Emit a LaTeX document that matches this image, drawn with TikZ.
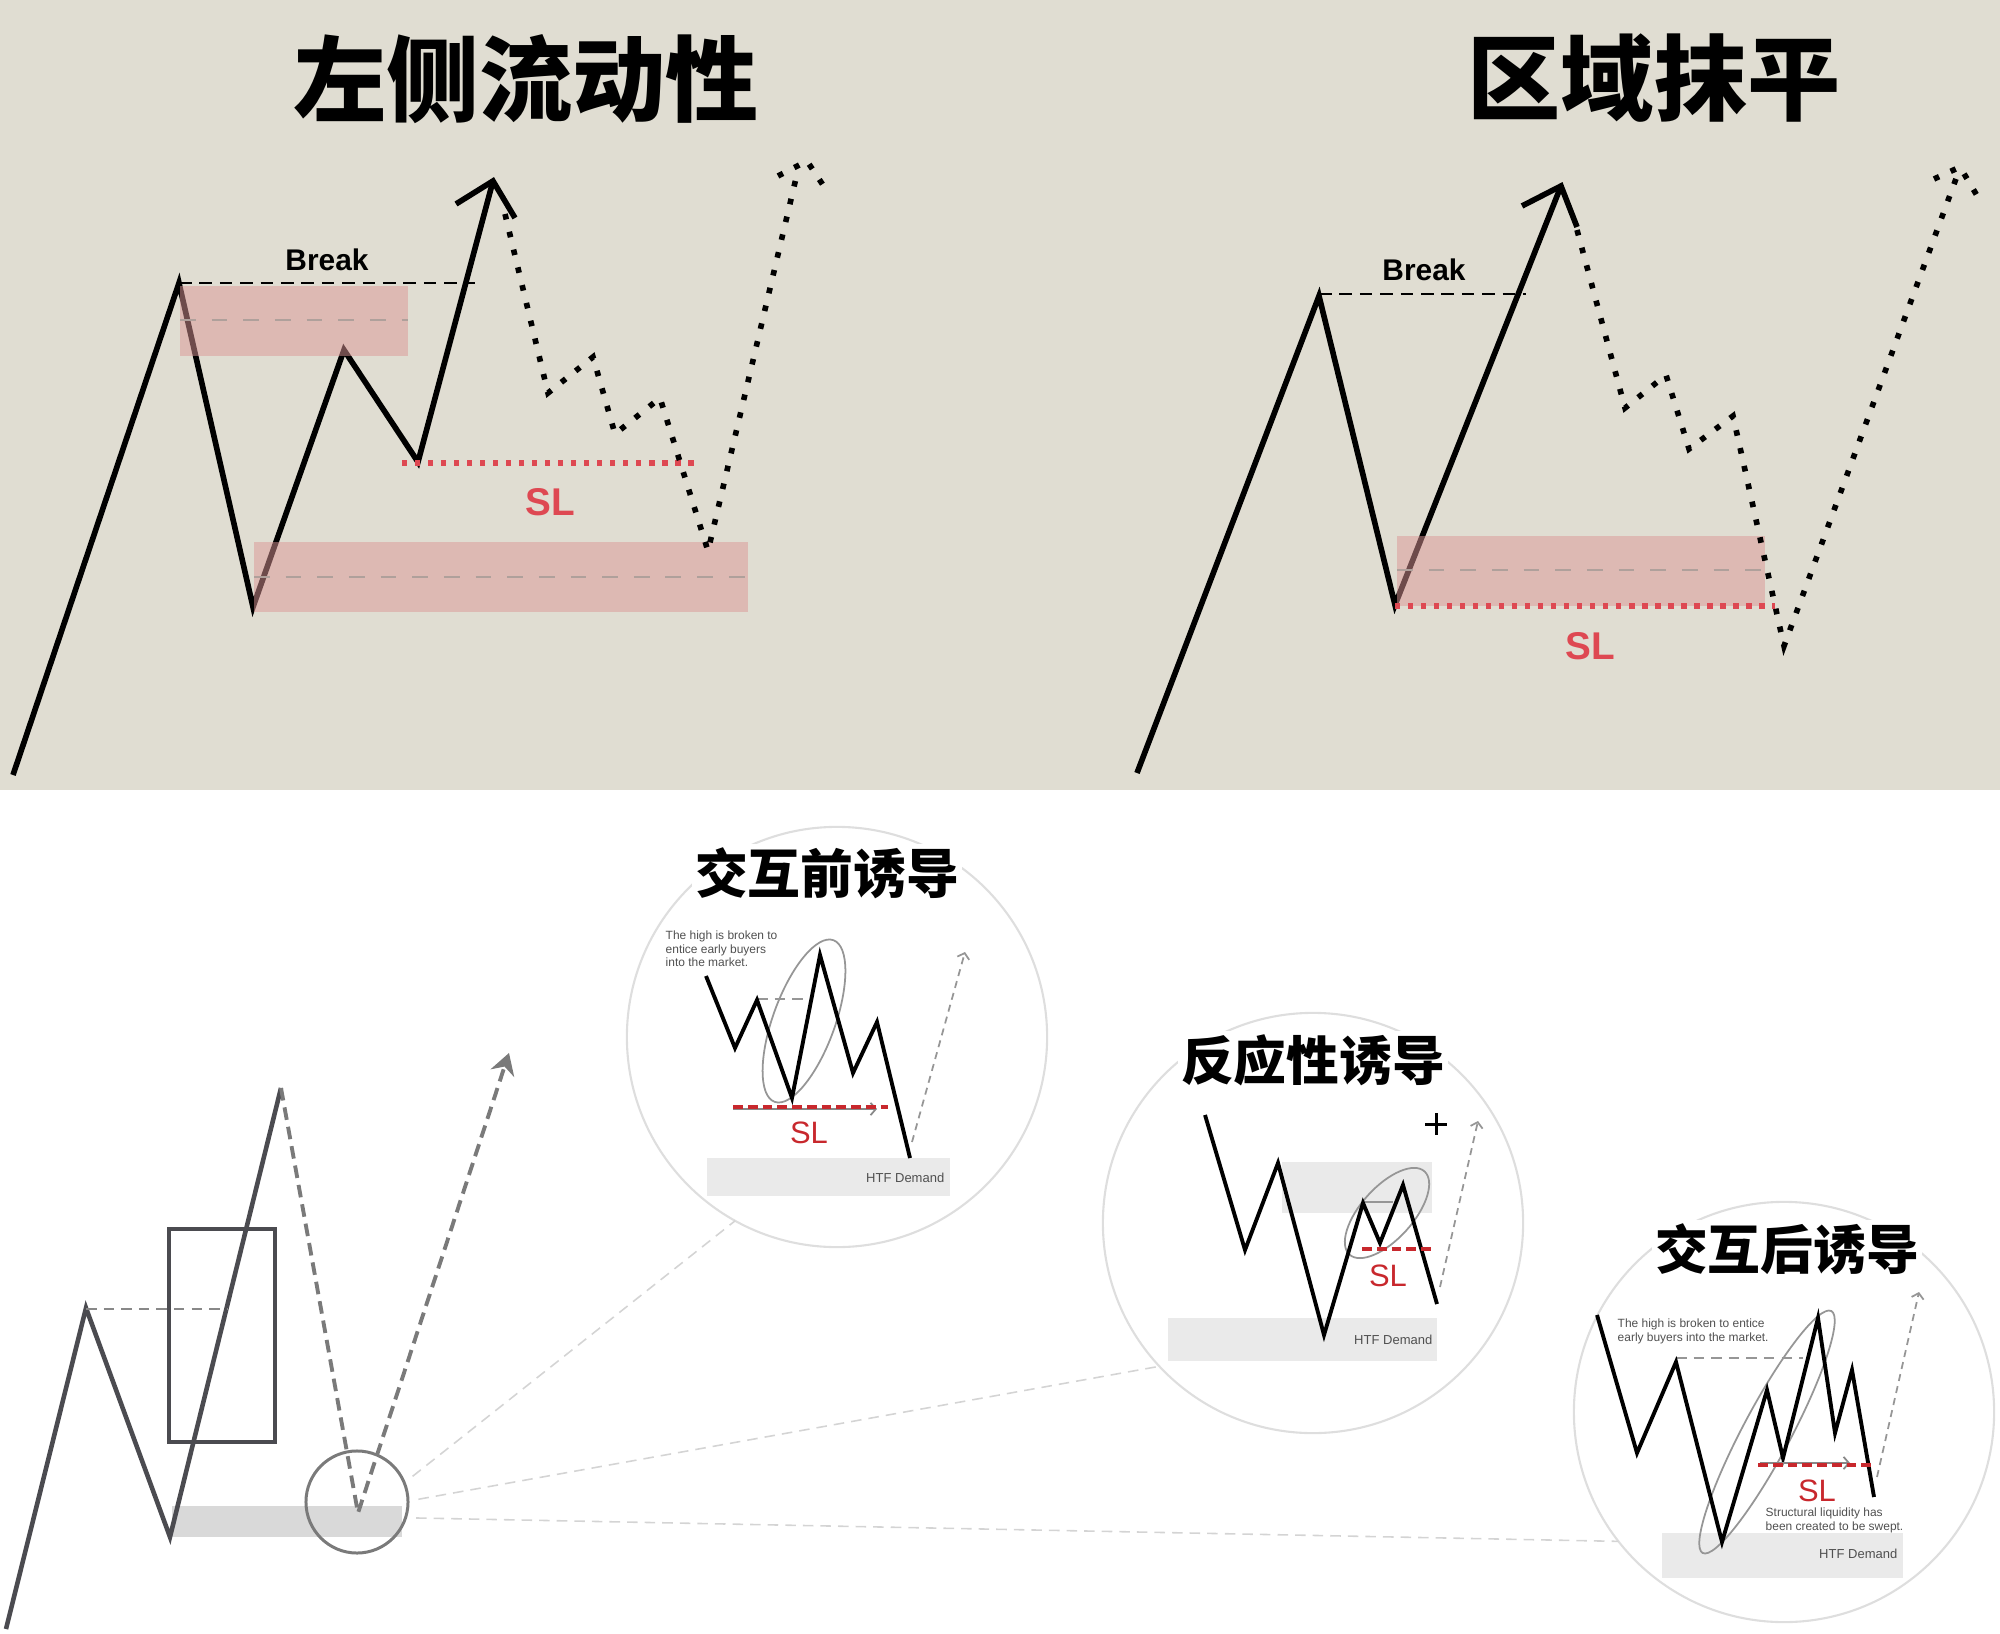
\documentclass[tikz,border=0pt]{standalone}
\usepackage{fontspec}
\setmainfont{Liberation Sans}
\newfontfamily\cjk{Noto Sans CJK SC}
\usetikzlibrary{arrows.meta}

\definecolor{fondo}{RGB}{224,221,210}
\definecolor{rosa}{RGB}{220,150,150}
\definecolor{rojosl}{RGB}{222,72,82}
\definecolor{rojoc}{RGB}{200,40,45}
\definecolor{oscuro}{RGB}{75,75,80}
\definecolor{medio}{RGB}{122,122,122}
\definecolor{claro}{RGB}{212,212,212}
\definecolor{borde}{RGB}{222,222,222}
\definecolor{caja}{RGB}{234,234,234}
\definecolor{cajagris}{RGB}{217,217,217}
\definecolor{mitadgris}{RGB}{175,160,155}
\definecolor{textogris}{RGB}{80,80,80}
\definecolor{guiagris}{RGB}{150,150,150}
\definecolor{lineagris}{RGB}{136,136,136}

\newcommand{\titulo}{\fontsize{26.5}{26.5}\selectfont\cjk\bfseries}

\tikzset{
  linea/.style={line width=1.6pt, line join=miter},
  punteado/.style={line width=1.6pt, dash pattern=on 1.6pt off 3.6pt},
  corte/.style={line width=0.7pt, dash pattern=on 3.6pt off 2.2pt},
  mitad/.style={draw=mitadgris, line width=0.6pt, dash pattern=on 4.5pt off 4.5pt},
  slpunto/.style={draw=rojosl, line width=1.5pt, dash pattern=on 1.5pt off 2.2pt},
  etiqueta/.style={font=\fontsize{8.5}{10}\selectfont\bfseries},
  slgrande/.style={font=\fontsize{11}{11}\selectfont\bfseries, text=rojosl},
  slchico/.style={font=\fontsize{8.8}{9}\selectfont, text=rojoc},
  nota/.style={font=\fontsize{3.4}{3.9}\selectfont, text=textogris, align=left, anchor=north west, inner sep=0pt},
  htf/.style={font=\fontsize{3.7}{4}\selectfont, text=textogris, anchor=east, inner sep=0pt},
  subtitulo/.style={font=\fontsize{15}{15}\selectfont\cjk\bfseries, fill=white, inner sep=1pt},
  circulo/.style={circle, draw=borde, line width=0.6pt, minimum size=4.2cm, inner sep=0pt, outer sep=0pt},
  zigzag/.style={line width=1.1pt, line join=miter},
  elipse/.style={draw=guiagris, line width=0.5pt},
  guia/.style={draw=guiagris, dash pattern=on 3pt off 2pt, line width=0.6pt},
  rojorayas/.style={draw=rojoc, line width=0.9pt, dash pattern=on 2.8pt off 1.4pt},
  flechagris/.style={draw=lineagris, line width=0.5pt, -{Straight Barb[length=1.5pt,width=3.5pt]}},
  flechita/.style={draw=guiagris, line width=0.5pt, dash pattern=on 2pt off 1.5pt, -{Straight Barb[length=1.5pt,width=3.5pt]}},
  conector/.style={draw=claro, line width=0.45pt, dash pattern=on 3pt off 2pt}
}

\begin{document}
\begin{tikzpicture}[x=0.01cm,y=-0.01cm]
    \useasboundingbox (0,0) rectangle (2000,1634);

    % Fondo de la parte superior
    \fill[fondo] (0,0) rectangle (2000,790);

    % Titulos
    \node at (526,79) {\titulo 左侧流动性};
    \node at (1654,78) {\titulo 区域抹平};

    % Grafico izquierdo
    \draw[linea] (13,775) -- (179,283) -- (253,607) -- (344,350) -- (418,462) -- (493,181);
    \draw[linea] (456,204) -- (493,181) -- (515,218);
    \draw[corte] (179,283) -- (475,283);
    \node[etiqueta] at (327,260) {Break};
    \fill[rosa, fill opacity=0.5] (180,286) rectangle (408,356);
    \draw[mitad] (180,320) -- (408,320);
    \fill[rosa, fill opacity=0.5] (254,542) rectangle (748,612);
    \draw[mitad] (254,577) -- (748,577);
    \draw[slpunto] (402,463) -- (695,463);
    \node[slgrande] at (550,502) {SL};
    \draw[punteado] (505,214) -- (548,393) -- (593,357) -- (615,434) -- (660,398) -- (708,551) -- (797,174);
    \draw[punteado] (778,176) -- (807,161) -- (829,194);

    % Grafico derecho
    \draw[linea] (1137,773) -- (1319,296) -- (1395,605) -- (1561,186);
    \draw[linea] (1522,206) -- (1561,186) -- (1577,227);
    \draw[corte] (1319,294) -- (1526,294);
    \node[etiqueta] at (1424,270) {Break};
    \fill[rosa, fill opacity=0.5] (1397,536) rectangle (1765,606);
    \draw[mitad] (1397,570) -- (1765,570);
    \draw[slpunto] (1395,606) -- (1775,606);
    \node[slgrande] at (1590,646) {SL};
    \draw[punteado] (1577,230) -- (1625,408) -- (1666,375) -- (1689,449) -- (1733,416) -- (1784,646) -- (1957,176);
    \draw[punteado] (1934,179) -- (1960,167) -- (1982,204);

    % Grafico inferior izquierdo
    \fill[cajagris] (172,1506) rectangle (402,1537);
    \draw[oscuro, line width=1.3pt, line join=miter] (6,1629) -- (86,1308) -- (170,1537) -- (281,1088);
    \draw[oscuro, line width=1.3pt] (169,1229) rectangle (275,1442);
    \draw[lineagris, line width=0.65pt, dash pattern=on 3pt off 2pt] (86,1309) -- (228,1309);
    \draw[medio, line width=1.1pt, dash pattern=on 3.6pt off 2pt, -{Stealth[length=6pt,width=7pt]}] (281,1088) -- (358,1513) -- (509,1053);
    \node[circle, draw=medio, line width=0.85pt, minimum size=1.02cm, inner sep=0pt, outer sep=0pt] (lupa) at (357,1502) {};

    % Circulo 1
    \node[circulo] (c1) at (837,1037) {};
    \fill[caja] (707,1158) rectangle (950,1196);
    \node[htf] at (945,1178) {HTF Demand};
    \node[nota] at (665,930) {The high is broken to\\entice early buyers\\into the market.};
    \draw[flechita] (912,1142) -- (965,952);
    \draw[elipse, rotate around={70:(804,1021)}] (804,1021) ellipse (86 and 31);
    \draw[guia] (757,999) -- (812,999);
    \draw[zigzag] (706,976) -- (735,1048) -- (757,1000) -- (792,1098) -- (820,955) -- (853,1073) -- (877,1022) -- (910,1158);
    \draw[flechagris] (733,1109) -- (877,1109);
    \draw[rojorayas] (733,1107) -- (888,1107);
    \node[slchico] at (809,1133) {SL};
    \node[subtitulo] at (827,873) {交互前诱导};

    % Circulo 2
    \node[circulo] (c2) at (1313,1223) {};
    \fill[caja] (1282,1162) rectangle (1432,1213);
    \fill[caja] (1168,1318) rectangle (1437,1361);
    \node[htf] at (1433,1340) {HTF Demand};
    \draw[guiagris, line width=0.5pt] (1363,1202) -- (1393,1202);
    \draw[elipse, rotate around={48:(1387,1213)}] (1387,1213) ellipse (56 and 26);
    \draw[zigzag] (1205,1115) -- (1245,1250) -- (1278,1163) -- (1324,1335) -- (1363,1203) -- (1380,1243) -- (1403,1185) -- (1437,1304);
    \draw[rojorayas] (1362,1249) -- (1432,1249);
    \node[slchico] at (1388,1276) {SL};
    \draw[line width=0.85pt] (1425,1124) -- (1447,1124) (1436,1113) -- (1436,1135);
    \draw[flechita] (1440,1287) -- (1478,1121);
    \node[subtitulo] at (1313,1060) {反应性诱导};

    % Circulo 3
    \node[circulo] (c3) at (1784,1412) {};
    \fill[caja] (1662,1533) rectangle (1903,1578);
    \node[htf] at (1898,1554) {HTF Demand};
    \node[nota] at (1617,1318) {The high is broken to entice\\early buyers into the market.};
    \node[nota] at (1765,1507) {Structural liquidity has\\been created to be swept.};
    \draw[flechita] (1877,1477) -- (1919,1292);
    \draw[elipse, rotate around={62:(1767,1432)}] (1767,1432) ellipse (137 and 24);
    \draw[guia] (1676,1358) -- (1803,1358);
    \draw[zigzag] (1597,1315) -- (1637,1453) -- (1676,1362) -- (1722,1542) -- (1767,1390) -- (1783,1458) -- (1818,1318) -- (1835,1433) -- (1852,1370) -- (1874,1497);
    \draw[flechagris] (1760,1463) -- (1850,1463);
    \draw[rojorayas] (1758,1465) -- (1872,1465);
    \node[slchico] at (1817,1491) {SL};
    \node[subtitulo] at (1787,1249) {交互后诱导};

    % Conectores desde la lupa
    \draw[conector, shorten <=3pt] (lupa.22) -- (c1.241);
    \draw[conector, shorten <=3pt] (lupa.1) -- (c2.223);
    \draw[conector, shorten <=3pt] (lupa.342) -- (c3.218);
\end{tikzpicture}
\end{document}
